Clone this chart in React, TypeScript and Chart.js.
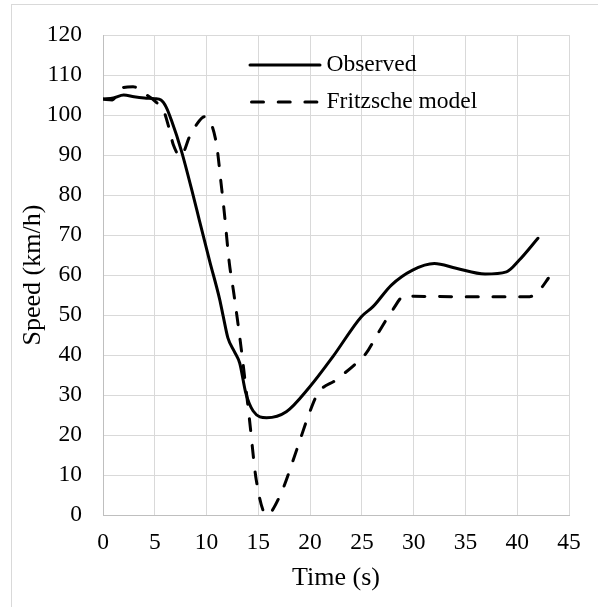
import { useEffect, useRef } from "react";
import { Chart, registerables } from "chart.js";

Chart.register(...registerables);

// ---- data ----
const observedTime = [0, 1, 2, 3, 4, 5, 5.6, 6.1, 6.6, 7.55, 8.7, 9.3, 10.3, 11.26, 11.6, 12.06, 12.7, 13.2, 13.8, 14.5, 15.8, 17.7, 19.95, 22.2, 24.95, 26.07, 27.85, 29.9, 32.0, 34.1, 36.9, 38.96, 40.2, 42.0];
const observedSpeed = [104, 104.3, 105, 104.6, 104.3, 104.1, 103.75, 102, 98.75, 91.25, 80, 73.75, 63.5, 54, 49.8, 44.3, 40.8, 38, 30.4, 26, 24.3, 25.8, 32, 39.6, 49.6, 52.1, 57.5, 61.25, 62.9, 61.7, 60.25, 60.8, 63.75, 69.2];

const fritzscheTime = [0, 0.9, 1.75, 2.9, 4.0, 5.1, 5.9, 6.4, 6.8, 7.5, 8.36, 9.0, 9.8, 10.5, 11.0, 11.4, 11.7, 12.2, 12.6, 13.0, 13.4, 14.15, 14.8, 15.8, 17.05, 18.8, 19.8, 20.75, 22.5, 24.6, 25.4, 26.55, 27.85, 29.2, 30, 35, 41.2, 42.3, 43];
const fritzscheSpeed = [104, 103.8, 106.7, 107.1, 105.4, 103.3, 100.8, 96.5, 92.5, 89.7, 94.6, 97.5, 99.6, 97.5, 92, 83, 76, 63, 56, 48.5, 40.5, 23.75, 8.75, 0, 4.6, 17, 24.6, 30.4, 33.75, 38.3, 40.4, 45.4, 50.8, 55, 54.7, 54.6, 54.6, 56.7, 59.2];

const seriesLabels = ["Observed", "Fritzsche model"];
const xAxisTitle = "Time (s)";
const yAxisTitle = "Speed (km/h)";
const xMin = 0, xMax = 45, xStep = 5;
const yMin = 0, yMax = 120, yStep = 10;

const FONT = "'Liberation Serif', 'Times New Roman', serif";

const insideLegend = {
  id: "insideLegend",
  afterDraw(chart: any) {
    const ctx = chart.ctx as CanvasRenderingContext2D;
    const x0 = 250, x1 = 320, tx = 326.5;
    const ys = [65, 102];
    ctx.save();
    chart.data.datasets.forEach((ds: any, i: number) => {
      const y = ys[i];
      ctx.beginPath();
      ctx.lineWidth = ds.borderWidth;
      ctx.strokeStyle = ds.borderColor;
      ctx.lineCap = ds.borderCapStyle || "butt";
      ctx.setLineDash(ds.borderDash || []);
      ctx.lineDashOffset = 0;
      ctx.moveTo(x0 + (ds.borderDash ? 1.5 : 0), y);
      ctx.lineTo(x1 - (ds.borderDash ? 1.5 : 0), y);
      ctx.stroke();
      ctx.setLineDash([]);
      ctx.fillStyle = "#000";
      ctx.font = `23.5px ${FONT}`;
      ctx.textAlign = "left";
      ctx.textBaseline = "middle";
      ctx.fillText(ds.label, tx, y);
    });
    ctx.restore();
  },
};

export default function App() {
  const ref = useRef<HTMLCanvasElement | null>(null);

  useEffect(() => {
    if (!ref.current) return;
    const chart = new Chart(ref.current, {
      type: "line",
      data: {
        datasets: [
          {
            label: seriesLabels[0],
            data: observedTime.map((t, i) => ({ x: t, y: observedSpeed[i] })),
            borderColor: "#000",
            borderWidth: 3,
            borderCapStyle: "round",
            borderJoinStyle: "round",
            pointRadius: 0,
            cubicInterpolationMode: "monotone",
            fill: false,
          },
          {
            label: seriesLabels[1],
            data: fritzscheTime.map((t, i) => ({ x: t, y: fritzscheSpeed[i] })),
            borderColor: "#000",
            borderWidth: 3,
            borderDash: [12, 14.7],
            borderCapStyle: "round",
            borderJoinStyle: "round",
            pointRadius: 0,
            cubicInterpolationMode: "monotone",
            fill: false,
          },
        ],
      },
      options: {
        responsive: false,
        animation: false,
        events: [],
        layout: { padding: { top: 35, right: 29, left: 0, bottom: 0 } },
        plugins: {
          legend: { display: false },
          tooltip: { enabled: false },
        },
        scales: {
          x: {
            type: "linear",
            min: xMin,
            max: xMax,
            ticks: {
              stepSize: xStep,
              color: "#000",
              padding: 14,
              font: { family: FONT, size: 23.5 },
              maxRotation: 0,
            },
            grid: { color: "#d9d9d9", lineWidth: 1, drawTicks: false },
            border: { color: "#bfbfbf", width: 1 },
            title: {
              display: true,
              text: xAxisTitle,
              color: "#000",
              font: { family: FONT, size: 26 },
              padding: { top: 0, bottom: 13.6 },
            },
            afterFit(scale: any) {
              scale.height = 92;
            },
          },
          y: {
            min: yMin,
            max: yMax,
            ticks: {
              stepSize: yStep,
              color: "#000",
              padding: 21,
              font: { family: FONT, size: 23.5 },
            },
            grid: { color: "#d9d9d9", lineWidth: 1, drawTicks: false },
            border: { color: "#bfbfbf", width: 1 },
            title: {
              display: true,
              text: yAxisTitle,
              color: "#000",
              font: { family: FONT, size: 26 },
              padding: { top: 17.5, bottom: 0 },
            },
            afterFit(scale: any) {
              scale.width = 103;
            },
          },
        },
      } as any,
      plugins: [insideLegend],
    });
    return () => chart.destroy();
  }, []);

  return (
    <div
      style={{
        position: "fixed",
        left: 0,
        top: 0,
        width: 598,
        height: 607,
        overflow: "hidden",
        background: "#fff",
      }}
    >
      <div
        style={{
          position: "absolute",
          left: 11,
          top: 4,
          width: 700,
          height: 700,
          borderLeft: "1px solid #d9d9d9",
          borderTop: "1px solid #d9d9d9",
        }}
      />
      <canvas
        ref={ref}
        width={598}
        height={607}
        style={{ position: "absolute", left: 0, top: 0, width: 598, height: 607, display: "block" }}
      />
    </div>
  );
}
